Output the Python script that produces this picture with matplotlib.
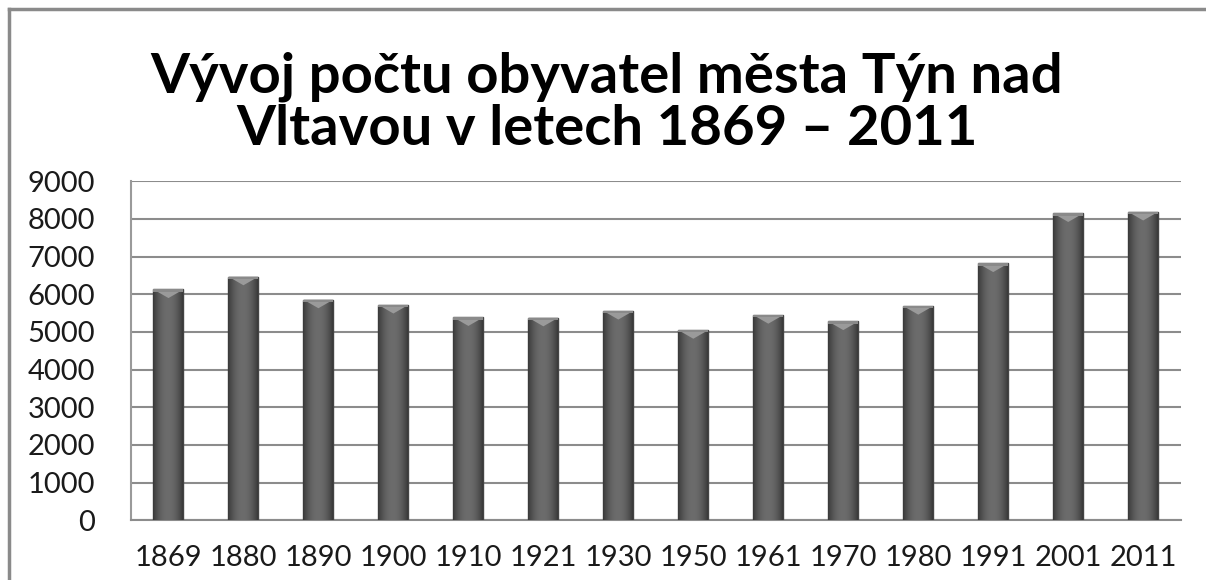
import matplotlib
matplotlib.use('Agg')
import matplotlib.pyplot as plt
import numpy as np
from matplotlib.patches import Polygon
from matplotlib.lines import Line2D

# population of Týn nad Vltavou by census year
years = ['1869', '1880', '1890', '1900', '1910', '1921', '1930',
         '1950', '1961', '1970', '1980', '1991', '2001', '2011']
population = [6130, 6470, 5860, 5720, 5390, 5380, 5560,
              5050, 5450, 5280, 5690, 6820, 8150, 8190]
yticks = list(range(0, 9001, 1000))
title_lines = ['Vývoj počtu obyvatel města Týn nad', 'Vltavou v letech 1869 – 2011']

plt.rcParams['font.family'] = ['Lato', 'DejaVu Sans']

fig = plt.figure(figsize=(12.06, 5.8), dpi=100)
ax = fig.add_axes([0.1086, 0.1029, 0.979 - 0.1086, 0.6874 - 0.1029])

x = np.arange(len(years))
bars = ax.bar(x, population, width=0.4, color='#5a5a5a', zorder=3)

# horizontal gradient (dark edges, lighter middle) clipped to every bar
grad = np.abs(np.linspace(-1, 1, 64))
grad = 1 - grad ** 2
grad = grad[np.newaxis, :]
cmap = matplotlib.colors.LinearSegmentedColormap.from_list('bevel', ['#3a3a3a', '#6c6c6c'])
for b in bars:
    bx, bw, bh = b.get_x(), b.get_width(), b.get_height()
    im = ax.imshow(grad, extent=[bx, bx + bw, 0, bh], cmap=cmap, aspect='auto', zorder=4,
                   vmin=0, vmax=1)
    im.set_clip_path(b)
    # lighter bevel chevron at the top
    d = 230
    tri = Polygon([[bx, bh], [bx + bw, bh], [bx + bw * 0.5, bh - d]], closed=True,
                  facecolor='#9a9a9a', edgecolor='none', zorder=5)
    ax.add_patch(tri)
    top = Polygon([[bx, bh], [bx + bw, bh], [bx + bw, bh - 60], [bx, bh - 60]], closed=True,
                  facecolor='#8a8a8a', edgecolor='none', zorder=5)
    ax.add_patch(top)
    b.set_edgecolor('#444444')
    b.set_linewidth(1.0)

ax.set_xlim(-0.5, len(years) - 0.5)
ax.set_ylim(0, 9000)
ax.set_yticks(yticks)
ax.set_xticks(x)
ax.set_xticklabels(years)
ax.yaxis.grid(True, color='#8c8c8c', linewidth=1.5, zorder=0)
ax.set_axisbelow(True)
ax.tick_params(axis='both', length=0, labelsize=21, colors='#1a1a1a')
ax.tick_params(axis='x', pad=18)
ax.tick_params(axis='y', pad=26)
for s in ['top', 'right']:
    ax.spines[s].set_visible(False)
ax.spines['left'].set_color('#9a9a9a')
ax.spines['left'].set_linewidth(1.5)
ax.spines['bottom'].set_color('#8c8c8c')
ax.spines['bottom'].set_linewidth(1.5)

fig.text(0.503, 1 - 92 / 580, title_lines[0], ha='center', va='baseline', fontsize=40.5,
         fontweight='bold')
fig.text(0.503, 1 - 145 / 580, title_lines[1], ha='center', va='baseline', fontsize=40.5,
         fontweight='bold')

# chart area frame (left and top edges visible in the crop)
fig.add_artist(Line2D([9 / 1206, 9 / 1206], [0, 1 - 9 / 580], color='#8a8a8a', linewidth=2.5))
fig.add_artist(Line2D([9 / 1206, 1], [1 - 9 / 580, 1 - 9 / 580], color='#8a8a8a', linewidth=2.5))

fig.savefig('out.png', dpi=100)
